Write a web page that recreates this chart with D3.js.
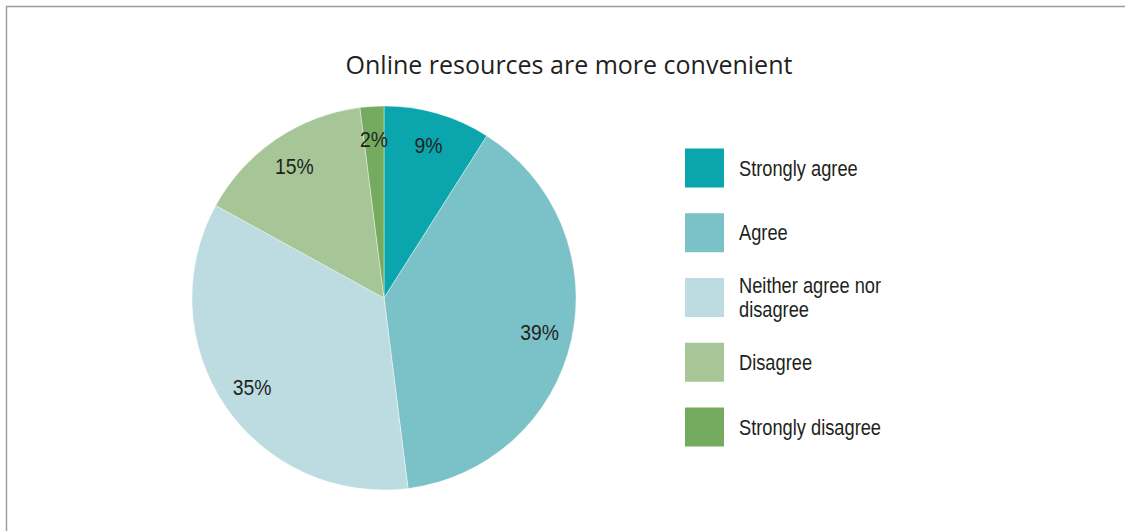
<!DOCTYPE html>
<html>
<head>
<meta charset="utf-8">
<script src="https://cdn.jsdelivr.net/npm/d3@7"></script>
<style>
  body { margin: 0; background: #fff; }
  text { fill: #231f20; }
</style>
</head>
<body>
<svg id="chart" width="1125" height="531"></svg>
<script>
// data
const categories = ["Strongly agree", "Agree", "Neither agree nor disagree", "Disagree", "Strongly disagree"];
const values = [9, 39, 35, 15, 2];
const colors = ["#0ba5ad", "#7ac1c8", "#bcdce1", "#a6c697", "#75ab5f"];
const title = "Online resources are more convenient";

// no condensed face installed, so squeeze a regular one horizontally
const narrowFont = "'Liberation Sans', Arial, sans-serif";
const legendSqueeze = 0.83;
const pctSqueeze = 0.88;

const svg = d3.select('#chart');

// frame (top + left edges only are visible)
svg.append('path')
  .attr('d', 'M6.5,531 L6.5,6.5 L1125,6.5')
  .attr('fill', 'none')
  .attr('stroke', '#9a9a9a')
  .attr('stroke-width', 1.4);

svg.append('text')
  .attr('x', 569)
  .attr('y', 74)
  .attr('text-anchor', 'middle')
  .style('font-family', "'Open Sans', sans-serif")
  .style('font-size', '25px')
  .text(title);

const data = categories.map((c, i) => ({ name: c, value: values[i], color: colors[i] }));

const pie = d3.pie().sort(null).value(d => d.value);
const radius = 192;
const arc = d3.arc().innerRadius(0).outerRadius(radius);
const labelArc = d3.arc().innerRadius(radius * 0.83).outerRadius(radius * 0.83);

const g = svg.append('g').attr('transform', 'translate(384,298)');

g.selectAll('path.slice')
  .data(pie(data))
  .enter()
  .append('path')
  .classed('slice', true)
  .attr('d', arc)
  .attr('fill', d => d.data.color)
  .attr('stroke', '#fff')
  .attr('stroke-width', 0.4);

g.selectAll('text.pct')
  .data(pie(data))
  .enter()
  .append('text')
  .classed('pct', true)
  .attr('transform', d => `translate(${labelArc.centroid(d)}) scale(${pctSqueeze},1)`)
  .attr('text-anchor', 'middle')
  .attr('dy', '0.35em')
  .style('font-family', narrowFont)
  .style('font-size', '22px')
  .text(d => d.data.value + '%');

// legend
const legendY = d3.scalePoint()
  .domain(categories)
  .range([168, 427]);

const legend = svg.append('g').attr('class', 'legend');

const item = legend.selectAll('g.item')
  .data(data)
  .enter()
  .append('g')
  .classed('item', true)
  .attr('transform', d => `translate(685,${legendY(d.name)})`);

item.append('rect')
  .attr('x', 0)
  .attr('y', -19.5)
  .attr('width', 39)
  .attr('height', 39)
  .attr('fill', d => d.color);

item.each(function(d) {
  const t = d3.select(this).append('text')
    .attr('transform', `translate(54,0) scale(${legendSqueeze},1)`)
    .style('font-family', narrowFont)
    .style('font-size', '22px');
  // wrap long labels
  const words = d.name.split(' ');
  let lines = [];
  let line = [];
  const probe = t.append('tspan');
  words.forEach(w => {
    line.push(w);
    probe.text(line.join(' '));
    if (probe.node().getComputedTextLength() * legendSqueeze > 150 && line.length > 1) {
      line.pop();
      lines.push(line.join(' '));
      line = [w];
    }
  });
  lines.push(line.join(' '));
  probe.remove();
  const lh = 24;
  lines.forEach((l, i) => {
    t.append('tspan')
      .attr('x', 0)
      .attr('y', 7.5 - (lines.length - 1) * lh / 2 + i * lh)
      .text(l);
  });
});
</script>
</body>
</html>
